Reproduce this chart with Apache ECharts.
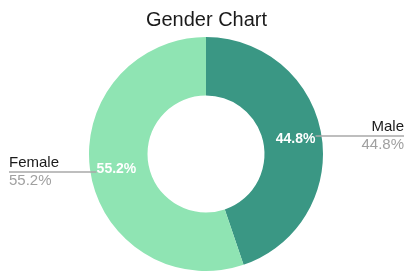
<!DOCTYPE html>
<html>
<head>
<meta charset="utf-8">
<script src="https://cdn.jsdelivr.net/npm/echarts@6/dist/echarts.min.js"></script>
<style>
html,body{margin:0;padding:0;background:#fff;}
#main{width:413px;height:280px;}
</style>
</head>
<body>
<div id="main"></div>
<script>
const titleText = 'Gender Chart';
const categories = ['Male', 'Female'];
const values = [44.8, 55.2];
const colors = ['#3a9784', '#8fe4b3'];

const FONT = '"Liberation Sans", Arial, sans-serif';
const chart = echarts.init(document.getElementById('main'), null, { renderer: 'canvas' });

const pieData = categories.map((c, i) => ({ name: c, value: values[i], itemStyle: { color: colors[i] } }));
const ghostData = categories.map((c, i) => ({ name: c, value: values[i] }));

const option = {
  animation: false,
  title: {
    text: titleText,
    left: 'center',
    top: 5,
    textStyle: { fontFamily: FONT, fontSize: 20, fontWeight: 'normal', color: '#1a1a1a' }
  },
  series: [
    {
      type: 'pie',
      radius: [58.5, 117],
      center: [206, 154],
      startAngle: 90,
      clockwise: true,
      data: pieData,
      itemStyle: { borderWidth: 0 },
      label: {
        show: true,
        position: 'inside',
        formatter: p => p.percent.toFixed(1) + '%',
        color: '#fff',
        fontFamily: FONT,
        fontSize: 14,
        fontWeight: 'bold'
      },
      labelLine: { show: false },
      emphasis: { disabled: true },
      z: 1
    },
    {
      type: 'pie',
      radius: [58.5, 111],
      center: [206, 154],
      startAngle: 90,
      clockwise: true,
      data: ghostData,
      itemStyle: { color: 'rgba(0,0,0,0)' },
      silent: true,
      label: {
        show: true,
        position: 'outside',
        alignTo: 'edge',
        edgeDistance: 9,
        formatter: p => '{n|' + p.name + '}\n{p|' + p.percent.toFixed(1) + '%}',
        rich: {
          n: { fontFamily: FONT, fontSize: 15, color: '#1a1a1a', lineHeight: 18 },
          p: { fontFamily: FONT, fontSize: 15, color: '#a0a0a0', lineHeight: 18 }
        }
      },
      labelLine: { show: true, length: 0, length2: 0, lineStyle: { color: '#a8a8a8', width: 1.5 } },
      labelLayout: function (params) {
        const isLeft = params.labelRect.x < 206;
        const points = params.labelLinePoints;
        if (points) {
          points[2][0] = isLeft ? params.labelRect.x : params.labelRect.x + params.labelRect.width;
          points[1][1] = points[0][1];
          points[2][1] = points[0][1];
          return { labelLinePoints: points };
        }
        return {};
      },
      emphasis: { disabled: true },
      z: 2
    }
  ]
};
chart.setOption(option);
</script>
</body>
</html>
